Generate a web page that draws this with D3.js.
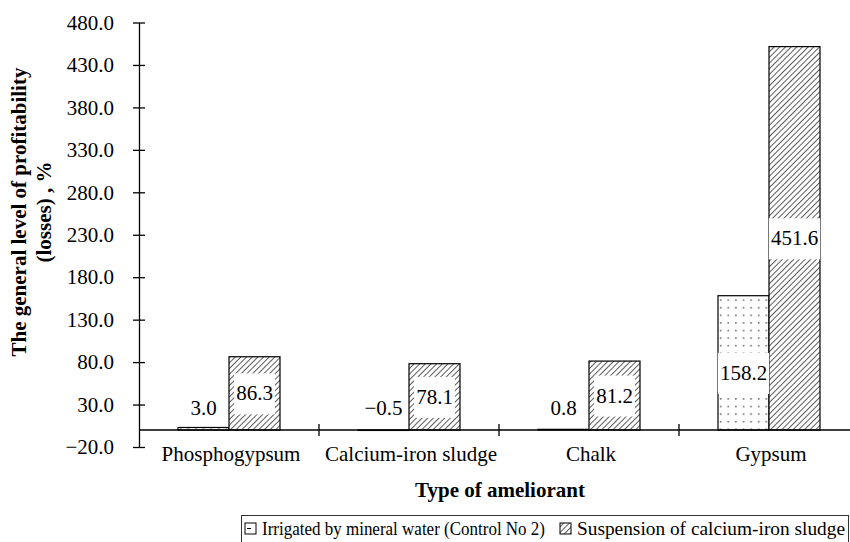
<!DOCTYPE html>
<html>
<head>
<meta charset="utf-8">
<script src="https://cdn.jsdelivr.net/npm/d3@7"></script>
<style>
  body { margin: 0; background: #fff; }
  svg text { font-family: "Liberation Serif", "Times New Roman", serif; fill: #000; }
</style>
</head>
<body>
<div id="chart"></div>
<script>
var categories = ["Phosphogypsum", "Calcium-iron sludge", "Chalk", "Gypsum"];
var seriesNames = ["Irrigated by mineral water (Control No 2)", "Suspension of calcium-iron sludge"];
var controlValues = [3.0, -0.5, 0.8, 158.2];
var sludgeValues = [86.3, 78.1, 81.2, 451.6];
var yTicks = [-20, 30, 80, 130, 180, 230, 280, 330, 380, 430, 480];

var width = 850, height = 542;
var svg = d3.select("#chart").append("svg")
    .attr("width", width)
    .attr("height", height);

var defs = svg.append("defs");
// diagonal hatch
var hatch = defs.append("pattern")
    .attr("id", "hatch")
    .attr("patternUnits", "userSpaceOnUse")
    .attr("width", 4).attr("height", 4)
    .attr("patternTransform", "rotate(45)");
hatch.append("rect").attr("width", 4).attr("height", 4).attr("fill", "#fff");
hatch.append("line")
    .attr("x1", 0).attr("y1", 0).attr("x2", 0).attr("y2", 4)
    .attr("stroke", "#333").attr("stroke-width", 1.6);
// sparse dots
var dots = defs.append("pattern")
    .attr("id", "dots")
    .attr("patternUnits", "userSpaceOnUse")
    .attr("width", 7.6).attr("height", 7.6);
dots.append("rect").attr("width", 7.6).attr("height", 7.6).attr("fill", "#fff");
dots.append("rect").attr("x", 3).attr("y", 3).attr("width", 1.4).attr("height", 1.4).attr("fill", "#444");

var left = 139, right = 859;
var yScale = d3.scaleLinear().domain([-20, 480]).range([447, 22.5]);
var x0 = d3.scaleBand().domain(categories).range([left, right]);
var x1 = d3.scaleBand().domain([0, 1]).range([39, 141]);

var fmt = function(v) { return d3.format(".1f")(v).replace("-", "\u2013"); };

var data = categories.map(function(c, i) {
    return {cat: c, vals: [controlValues[i], sludgeValues[i]]};
});

// y axis
var yAxis = svg.append("g")
    .attr("transform", "translate(" + left + ",0)")
    .call(d3.axisLeft(yScale).tickValues(yTicks).tickSizeOuter(0).tickSizeInner(6).tickPadding(19).tickFormat(fmt));
yAxis.select(".domain").attr("stroke", "#000").attr("stroke-width", 1.3);
yAxis.selectAll(".tick line").attr("x1", 6).attr("stroke", "#000").attr("stroke-width", 1.3);
yAxis.selectAll(".tick text")
    .attr("font-family", "Liberation Serif")
    .attr("font-size", "21px").attr("fill", "#000");

// bars
var groups = svg.selectAll(".grp")
    .data(data)
    .enter().append("g")
    .attr("class", "grp")
    .attr("transform", function(d) { return "translate(" + x0(d.cat) + ",0)"; });

groups.selectAll("rect")
    .data(function(d) { return d.vals.map(function(v, k) { return {v: v, k: k}; }); })
    .enter().append("rect")
    .attr("x", function(d) { return x1(d.k); })
    .attr("y", function(d) { return yScale(Math.max(0, d.v)); })
    .attr("width", x1.bandwidth())
    .attr("height", function(d) { return Math.abs(yScale(d.v) - yScale(0)); })
    .attr("fill", function(d) { return d.k === 0 ? "url(#dots)" : "url(#hatch)"; })
    .attr("stroke", "#000")
    .attr("stroke-width", 1.2);

// x axis at zero
var y0 = yScale(0);
svg.append("line")
    .attr("x1", left).attr("x2", right)
    .attr("y1", y0).attr("y2", y0)
    .attr("stroke", "#000").attr("stroke-width", 1.3);
svg.selectAll(".xtick")
    .data(categories.slice(1))
    .enter().append("line")
    .attr("x1", function(d) { return x0(d); })
    .attr("x2", function(d) { return x0(d); })
    .attr("y1", y0 - 6).attr("y2", y0 + 6)
    .attr("stroke", "#000").attr("stroke-width", 1.3);
svg.selectAll(".xlab")
    .data(categories)
    .enter().append("text")
    .attr("x", function(d) { return x0(d) + x0.bandwidth() / 2 + 2; })
    .attr("y", y0 + 31)
    .attr("text-anchor", "middle")
    .attr("font-size", "21px")
    .text(function(d) { return d; });

// value labels
groups.each(function(d) {
    var g = d3.select(this);
    d.vals.forEach(function(v, k) {
        var cx = x1(k) + x1.bandwidth() / 2;
        var h = Math.abs(yScale(v) - y0);
        if (h < 30) {
            g.append("text")
                .attr("x", cx)
                .attr("y", y0 - 15)
                .attr("text-anchor", "middle")
                .attr("font-size", "21px")
                .text(fmt(v));
        } else {
            var cy = (yScale(v) + y0) / 2;
            if (k === 0) cy += 10;
            var t = g.append("text")
                .attr("x", cx)
                .attr("y", cy + 7)
                .attr("text-anchor", "middle")
                .attr("font-size", "21px")
                .text(fmt(v));
            var w = t.node().getComputedTextLength();
            g.insert("rect", function() { return t.node(); })
                .attr("x", cx - w / 2 - 2)
                .attr("y", cy - 20)
                .attr("width", w + 4)
                .attr("height", 41)
                .attr("fill", "#fff");
        }
    });
});

// axis titles
svg.append("text")
    .attr("transform", "translate(26,212) rotate(-90)")
    .attr("text-anchor", "middle")
    .attr("font-size", "21px").attr("font-weight", "bold")
    .text("The general level of profitability");
svg.append("text")
    .attr("transform", "translate(51,212) rotate(-90)")
    .attr("text-anchor", "middle")
    .attr("font-size", "21px").attr("font-weight", "bold")
    .text("(losses) , %");
svg.append("text")
    .attr("x", 500).attr("y", 497)
    .attr("text-anchor", "middle")
    .attr("font-size", "21px").attr("font-weight", "bold")
    .text("Type of ameliorant");

// legend
var legend = svg.append("g");
legend.append("rect")
    .attr("x", 241.5).attr("y", 515.5)
    .attr("width", 607).attr("height", 28)
    .attr("fill", "#fff").attr("stroke", "#333").attr("stroke-width", 1);
var legX = [245, 560];
var legLen = [283, 268];
seriesNames.forEach(function(name, k) {
    legend.append("rect")
        .attr("x", legX[k]).attr("y", 523)
        .attr("width", 11).attr("height", 11)
        .attr("fill", k === 0 ? "#fff" : "url(#hatch)")
        .attr("stroke", "#000").attr("stroke-width", 1);
    if (k === 0) {
        legend.append("line")
            .attr("x1", legX[k] + 2).attr("x2", legX[k] + 6)
            .attr("y1", 528.5).attr("y2", 528.5)
            .attr("stroke", "#000").attr("stroke-width", 1);
    }
    legend.append("text")
        .attr("x", legX[k] + 17).attr("y", 535)
        .attr("font-size", "19px")
        .attr("textLength", legLen[k])
        .attr("lengthAdjust", "spacingAndGlyphs")
        .text(name);
});
</script>
</body>
</html>
